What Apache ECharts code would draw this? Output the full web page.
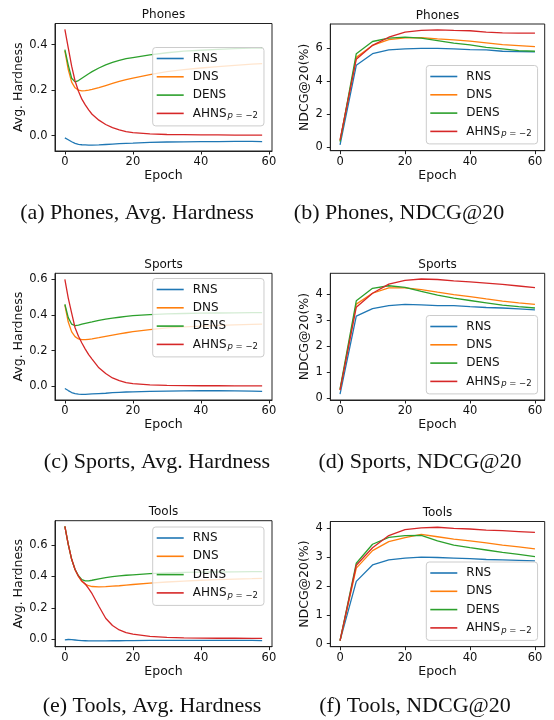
<!DOCTYPE html>
<html><head><meta charset="utf-8">
<script src="https://cdn.jsdelivr.net/npm/echarts@6/dist/echarts.min.js"></script>
<style>html,body{margin:0;padding:0;background:#fff}#c{width:554px;height:720px}</style>
</head><body><div id="c"></div>
<script>
// ---------- data ----------
const seriesNames = ['RNS', 'DNS', 'DENS', 'AHNS'];
const hardEpochs = [0,1,2,3,4,5,6,7,8,10,12,14,16,18,20,25,30,35,40,45,50,55,58];
const ndcgEpochs = [0,5,10,15,20,25,30,35,40,45,50,55,60];

const phonesHardRNS  = [-0.010,-0.018,-0.027,-0.034,-0.038,-0.040,-0.041,-0.042,-0.042,-0.041,-0.039,-0.037,-0.035,-0.034,-0.033,-0.030,-0.028,-0.027,-0.026,-0.026,-0.025,-0.025,-0.026];
const phonesHardDNS  = [0.372,0.290,0.235,0.210,0.200,0.197,0.198,0.200,0.203,0.211,0.220,0.229,0.238,0.246,0.253,0.268,0.281,0.290,0.297,0.303,0.309,0.314,0.316];
const phonesHardDENS = [0.378,0.310,0.252,0.236,0.242,0.252,0.262,0.272,0.281,0.297,0.311,0.322,0.331,0.338,0.343,0.355,0.364,0.371,0.375,0.379,0.382,0.384,0.385];
const phonesHardAHNS = [0.467,0.385,0.305,0.240,0.195,0.160,0.135,0.113,0.094,0.068,0.049,0.035,0.025,0.018,0.013,0.008,0.005,0.004,0.003,0.003,0.002,0.002,0.002];

const sportsHardRNS  = [-0.013,-0.025,-0.036,-0.042,-0.045,-0.046,-0.046,-0.045,-0.044,-0.042,-0.040,-0.037,-0.035,-0.033,-0.032,-0.030,-0.028,-0.027,-0.026,-0.026,-0.027,-0.028,-0.029];
const sportsHardDNS  = [0.455,0.360,0.305,0.278,0.265,0.261,0.261,0.263,0.265,0.272,0.280,0.287,0.294,0.300,0.306,0.318,0.327,0.333,0.337,0.341,0.344,0.347,0.348];
const sportsHardDENS = [0.460,0.385,0.348,0.340,0.343,0.348,0.353,0.357,0.361,0.370,0.377,0.382,0.387,0.392,0.396,0.402,0.406,0.408,0.410,0.411,0.412,0.413,0.413];
const sportsHardAHNS = [0.600,0.495,0.410,0.328,0.280,0.242,0.208,0.177,0.152,0.103,0.071,0.046,0.031,0.020,0.014,0.007,0.004,0.003,0.002,0.002,0.001,0.001,0.001];

const toolsHardRNS  = [-0.005,-0.003,-0.004,-0.006,-0.008,-0.010,-0.011,-0.012,-0.012,-0.012,-0.012,-0.011,-0.011,-0.010,-0.010,-0.009,-0.009,-0.008,-0.008,-0.008,-0.008,-0.009,-0.010];
const toolsHardDNS  = [0.720,0.605,0.510,0.443,0.400,0.368,0.351,0.341,0.336,0.334,0.335,0.338,0.341,0.345,0.349,0.358,0.365,0.371,0.376,0.380,0.383,0.386,0.388];
const toolsHardDENS = [0.720,0.605,0.510,0.445,0.405,0.380,0.372,0.372,0.376,0.385,0.393,0.399,0.404,0.408,0.411,0.418,0.423,0.426,0.428,0.429,0.430,0.431,0.431];
const toolsHardAHNS = [0.720,0.605,0.510,0.445,0.402,0.372,0.352,0.323,0.290,0.210,0.133,0.087,0.058,0.041,0.031,0.017,0.011,0.008,0.006,0.005,0.005,0.004,0.004];

const phonesNdcgRNS  = [0.15,4.97,5.67,5.90,5.96,6.00,6.00,5.96,5.92,5.90,5.82,5.80,5.79];
const phonesNdcgDNS  = [0.40,5.45,6.17,6.53,6.63,6.65,6.57,6.51,6.43,6.33,6.22,6.16,6.10];
const phonesNdcgDENS = [0.35,5.67,6.41,6.61,6.67,6.62,6.47,6.31,6.20,6.06,5.96,5.86,5.82];
const phonesNdcgAHNS = [0.45,5.34,6.18,6.67,6.98,7.08,7.12,7.08,7.06,6.98,6.93,6.92,6.92];

const sportsNdcgRNS  = [0.15,3.16,3.45,3.56,3.61,3.59,3.56,3.56,3.52,3.49,3.47,3.44,3.40];
const sportsNdcgDNS  = [0.30,3.62,4.04,4.25,4.25,4.18,4.08,3.99,3.91,3.82,3.74,3.67,3.61];
const sportsNdcgDENS = [0.35,3.75,4.23,4.33,4.27,4.11,3.97,3.85,3.76,3.67,3.58,3.52,3.47];
const sportsNdcgAHNS = [0.30,3.50,4.04,4.39,4.54,4.59,4.57,4.52,4.48,4.43,4.38,4.32,4.26];

const toolsNdcgRNS  = [0.10,2.16,2.73,2.91,2.97,3.00,2.99,2.97,2.95,2.92,2.91,2.89,2.87];
const toolsNdcgDNS  = [0.10,2.62,3.23,3.54,3.68,3.79,3.71,3.63,3.57,3.50,3.42,3.36,3.29];
const toolsNdcgDENS = [0.10,2.79,3.45,3.69,3.75,3.76,3.57,3.42,3.33,3.25,3.17,3.10,3.02];
const toolsNdcgAHNS = [0.10,2.72,3.33,3.75,3.96,4.02,4.04,4.00,3.98,3.94,3.92,3.89,3.86];

const epochTicks = [0, 20, 40, 60];
const phonesHardTicks = [0, 0.2, 0.4];
const sportsHardTicks = [0, 0.2, 0.4, 0.6];
const toolsHardTicks = [0, 0.2, 0.4, 0.6];
const phonesNdcgTicks = [0, 2, 4, 6];
const sportsNdcgTicks = [0, 1, 2, 3, 4];
const toolsNdcgTicks = [0, 1, 2, 3, 4];

const panelTitles = ['Phones', 'Phones', 'Sports', 'Sports', 'Tools', 'Tools'];
const captions = ['(a) Phones, Avg. Hardness', '(b) Phones, NDCG@20',
                  '(c) Sports, Avg. Hardness', '(d) Sports, NDCG@20',
                  '(e) Tools, Avg. Hardness', '(f) Tools, NDCG@20'];
const yNames = ['Avg. Hardness', 'NDCG@20(%)'];
const xName = 'Epoch';

// ---------- layout / style ----------
const colors = ['#1f77b4', '#ff7f0e', '#2ca02c', '#d62728'];
const FONT = 'DejaVu Sans';
const panels = [
  {epochs: hardEpochs, vals: [phonesHardRNS, phonesHardDNS, phonesHardDENS, phonesHardAHNS], yt: phonesHardTicks, hard: true,
   grid: {left: 55, top: 23.5, width: 217, height: 127.5}, x: [-2.9, 60.9], y: [-0.0675, 0.4925], leg: [152.7, 47.5], title: [163.5, 15], cap: [137, 213]},
  {epochs: ndcgEpochs, vals: [phonesNdcgRNS, phonesNdcgDNS, phonesNdcgDENS, phonesNdcgAHNS], yt: phonesNdcgTicks, hard: false,
   grid: {left: 330.3, top: 24, width: 214.4, height: 126.7}, x: [-3, 63], y: [-0.2, 7.47], leg: [426.3, 65.5], title: [437.5, 15.5], cap: [399, 213]},
  {epochs: hardEpochs, vals: [sportsHardRNS, sportsHardDNS, sportsHardDENS, sportsHardAHNS], yt: sportsHardTicks, hard: true,
   grid: {left: 55, top: 273.3, width: 217, height: 126.7}, x: [-2.9, 60.9], y: [-0.078, 0.634], leg: [152.7, 278.5], title: [163.5, 264.5], cap: [157, 462]},
  {epochs: ndcgEpochs, vals: [sportsNdcgRNS, sportsNdcgDNS, sportsNdcgDENS, sportsNdcgAHNS], yt: sportsNdcgTicks, hard: false,
   grid: {left: 330.3, top: 273.3, width: 214.4, height: 126.7}, x: [-3, 63], y: [-0.08, 4.81], leg: [426.3, 315.5], title: [437.5, 264.5], cap: [420, 462]},
  {epochs: hardEpochs, vals: [toolsHardRNS, toolsHardDNS, toolsHardDENS, toolsHardAHNS], yt: toolsHardTicks, hard: true,
   grid: {left: 55, top: 520.7, width: 217, height: 126}, x: [-2.9, 60.9], y: [-0.049, 0.757], leg: [152.7, 527], title: [163.5, 512], cap: [152, 706]},
  {epochs: ndcgEpochs, vals: [toolsNdcgRNS, toolsNdcgDNS, toolsNdcgDENS, toolsNdcgAHNS], yt: toolsNdcgTicks, hard: false,
   grid: {left: 330.3, top: 521.5, width: 214.4, height: 125.2}, x: [-3, 63], y: [-0.11, 4.24], leg: [426.3, 562], title: [437.5, 513], cap: [415, 706]}
];

const grids = [], xAxes = [], yAxes = [], series = [], legends = [], texts = [];
panels.forEach((p, i) => {
  grids.push(Object.assign({show: true, borderColor: '#222', borderWidth: 1, backgroundColor: 'transparent', containLabel: false}, p.grid));
  xAxes.push({
    type: 'value', gridIndex: i, min: p.x[0], max: p.x[1],
    axisLine: {show: true, onZero: false, lineStyle: {color: '#222', width: 1}},
    axisTick: {show: true, inside: false, length: 3.5, lineStyle: {color: '#222', width: 1}, customValues: epochTicks},
    axisLabel: {customValues: epochTicks, fontFamily: FONT, fontSize: 11.5, color: '#111', margin: 5.5},
    splitLine: {show: false},
    name: xName, nameLocation: 'middle', nameGap: 17,
    nameTextStyle: {fontFamily: FONT, fontSize: 12.5, color: '#111'}
  });
  yAxes.push({
    type: 'value', gridIndex: i, min: p.y[0], max: p.y[1],
    axisLine: {show: true, onZero: false, lineStyle: {color: '#222', width: 1}},
    axisTick: {show: true, inside: false, length: 3.5, lineStyle: {color: '#222', width: 1}, customValues: p.yt},
    axisLabel: {customValues: p.yt, fontFamily: FONT, fontSize: 11.5, color: '#111', margin: 7.5,
      formatter: p.hard ? (v => Number(v).toFixed(1)) : (v => String(Math.round(v)))},
    splitLine: {show: false},
    name: p.hard ? yNames[0] : yNames[1], nameLocation: 'middle', nameGap: p.hard ? 26 : 15.5,
    nameTextStyle: {fontFamily: FONT, fontSize: 12.5, color: '#111'}
  });
  seriesNames.forEach((n, k) => {
    series.push({
      type: 'line', name: n, xAxisIndex: i, yAxisIndex: i,
      data: p.epochs.map((e, j) => [e, p.vals[k][j]]),
      symbol: 'none', showSymbol: false, smooth: false,
      lineStyle: {width: 1.3, color: colors[k]}, itemStyle: {color: colors[k]},
      emphasis: {disabled: true}, animation: false, z: 2 + k * 0.01
    });
  });
  legends.push({
    orient: 'vertical', left: p.leg[0], top: p.leg[1], data: seriesNames,
    icon: 'rect', itemWidth: 27, itemHeight: 1.6, itemGap: 4.3,
    padding: [4, 6, 5.5, 4], selectedMode: false,
    backgroundColor: 'rgba(255,255,255,0.8)', borderColor: '#cccccc', borderWidth: 1, borderRadius: 3,
    formatter: n => n === 'AHNS' ? 'AHNS{i|p}{s| = −2}' : n,
    textStyle: {fontFamily: FONT, fontSize: 12, color: '#111', lineHeight: 14, padding: [0, 0, 0, 4],
      rich: {
        i: {fontFamily: FONT, fontSize: 8.5, fontStyle: 'italic', color: '#111', lineHeight: 8, padding: [4, 0, 0, 1], verticalAlign: 'bottom'},
        s: {fontFamily: FONT, fontSize: 8.5, color: '#111', lineHeight: 8, padding: [4, 0, 0, 0], verticalAlign: 'bottom'}
      }}
  });
  texts.push({type: 'text', x: p.title[0], y: p.title[1], silent: true,
    style: {text: panelTitles[i], font: '12px "DejaVu Sans"', fill: '#111',
      textAlign: 'center', textVerticalAlign: 'middle', align: 'center', verticalAlign: 'middle'}});
  texts.push({type: 'text', x: p.cap[0], y: p.cap[1], silent: true,
    style: {text: captions[i], font: '22px "Liberation Serif"', fill: '#111',
      textAlign: 'center', textVerticalAlign: 'middle', align: 'center', verticalAlign: 'middle'}});
});

const chart = echarts.init(document.getElementById('c'), null, {renderer: 'canvas'});
chart.setOption({
  backgroundColor: '#fff', animation: false,
  grid: grids, xAxis: xAxes, yAxis: yAxes, series: series, legend: legends,
  graphic: {elements: texts}
});
</script></body></html>
